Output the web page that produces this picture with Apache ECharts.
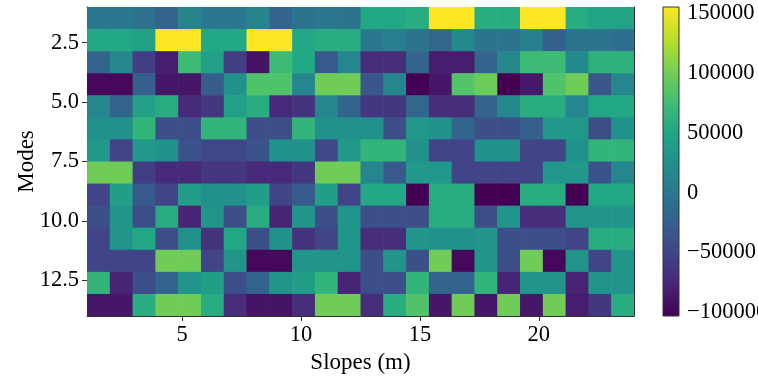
<!DOCTYPE html>
<html>
<head>
<meta charset="utf-8">
<script src="https://cdn.jsdelivr.net/npm/echarts@6/dist/echarts.min.js"></script>
<style>
  html, body { margin: 0; padding: 0; background: #fff; }
  #chart { width: 758px; height: 376px; }
</style>
</head>
<body>
<div id="chart"></div>
<script>
// axis extents (imshow extent) and tick positions
const slopeRange = [1, 24]
const modeRange = [1, 14]
const slopeTicks = [5, 10, 15, 20]
const modeTicks = [2.5, 5, 7.5, 10, 12.5]
const colorTicks = [-100000, -50000, 0, 50000, 100000, 150000]
const colorRange = [-103000, 155000]

const viridis = ['#440154', '#482475', '#414487', '#355f8d', '#2a788e', '#21918c',
  '#22a884', '#44bf70', '#7ad151', '#bddf26', '#fde725']

// one row per mode (top to bottom), 24 slope cells each
const modeRows = [
  [0, 0, -7500, -20500, 13000, 0, 0, 13000, -20500, -5000, 0, -5000, 52000, 52000, 57000, 155000, 155000, 57000, 57000, 155000, 155000, 57000, 46500, 46500],
  [52000, 52000, 44000, 155000, 155000, 52000, 52000, 155000, 155000, 52000, 57000, 57000, 0, 5000, -5000, -18000, 18000, -5000, -5000, 8000, -25500, -5000, -5000, -10000],
  [-20500, 15500, -56500, -82000, 72000, 41500, -56500, -90000, 72000, 52000, -31000, 15500, -69500, -69500, -20500, -82000, -82000, -20500, 15500, 72000, 72000, 18000, 62000, 62000],
  [-98000, -98000, -25500, -87500, -87500, -28000, 26000, 83000, 83000, 15500, 98000, 98000, -33500, 15500, -103000, -87500, 85000, 96000, -103000, -85000, 83000, 98000, -33500, 15500],
  [15500, -20500, 44000, 57000, -72000, -62000, 41500, 57000, -72000, -64000, 15500, -20500, -62000, -62000, -18000, -69500, -69500, -20500, 15500, 57000, 57000, 15500, 52000, 52000],
  [26000, 26000, 65000, -41000, -41000, 65000, 65000, -41000, -41000, 65000, 26000, 26000, 26000, -41000, 34000, 26000, -20500, -41000, -41000, -25500, 34000, 34000, -41000, 26000],
  [34000, -51500, 34000, 26000, -36000, -49000, -49000, -36000, 26000, 26000, -49000, 34000, 65000, 65000, 26000, -51500, -51500, 26000, 26000, -51500, -51500, 26000, 65000, 65000],
  [98000, 98000, -56500, -72000, -72000, -62000, -62000, -72000, -72000, -62000, 98000, 98000, 15500, -31000, 34000, 34000, -51500, -51500, -51500, -51500, 34000, 34000, -36000, 15500],
  [-51500, 39000, -31000, -51500, 39000, 26000, 26000, 39000, -51500, -31000, 39000, -51500, 52000, 52000, -103000, 57000, 57000, -103000, -103000, 57000, 57000, -103000, 52000, 52000],
  [-41000, 31000, -41000, 57000, -77000, 31000, -41000, 57000, -77000, 31000, -41000, 31000, -41000, -41000, -41000, 57000, 57000, -41000, 31000, -69500, -69500, 31000, 31000, 31000],
  [-51500, 31000, 52000, -41000, 26000, -64000, 52000, -41000, 26000, -64000, -51500, 31000, -69500, -69500, 31000, 26000, 26000, 31000, -41000, -41000, -41000, -51500, 57000, 57000],
  [-51500, -51500, -51500, 98000, 98000, -51500, 31000, -98000, -98000, 31000, 31000, 31000, -41000, 31000, -41000, 98000, -98000, 31000, -41000, 98000, -98000, 31000, -51500, 31000],
  [65000, -77000, -41000, -20500, 31000, 39000, -41000, -20500, 31000, 39000, 65000, -77000, -41000, -41000, 65000, -20500, -20500, 65000, -77000, 31000, 31000, -77000, 31000, 31000],
  [-87500, -87500, 57000, 98000, 98000, 57000, -69500, -90000, -90000, -69500, 98000, 98000, -69500, 57000, 83000, -87500, 98000, -87500, 98000, -87500, 98000, -82000, -62000, 57000],
]

const nRows = modeRows.length
const nCols = modeRows[0].length
const font = 'Liberation Serif'
const spine = '#333'

let cells = []
modeRows.forEach((row, j) => {
  row.forEach((v, i) => {
    cells.push([i, j, v])
  })
})

function renderCell(params, api) {
  const dx = (slopeRange[1] - slopeRange[0]) / nCols
  const dy = (modeRange[1] - modeRange[0]) / nRows
  const i = api.value(0)
  const j = api.value(1)
  const p0 = api.coord([slopeRange[0] + i * dx, modeRange[0] + j * dy])
  const p1 = api.coord([slopeRange[0] + (i + 1) * dx, modeRange[0] + (j + 1) * dy])
  return {
    type: 'rect',
    shape: {
      x: Math.min(p0[0], p1[0]),
      y: Math.min(p0[1], p1[1]),
      width: Math.abs(p1[0] - p0[0]) + 0.6,
      height: Math.abs(p1[1] - p0[1]) + 0.6,
    },
    style: { fill: api.visual('color') },
  }
}

function renderColorbar(params, api) {
  const top = api.coord([0, colorRange[1]])
  const bottom = api.coord([1, colorRange[0]])
  return {
    type: 'rect',
    shape: { x: top[0], y: top[1], width: bottom[0] - top[0], height: bottom[1] - top[1] },
    style: {
      fill: new echarts.graphic.LinearGradient(0, 0, 0, 1,
        viridis.slice().reverse().map((c, k) => ({ offset: k / (viridis.length - 1), color: c }))),
      stroke: spine,
      lineWidth: 1,
    },
  }
}

const tickLabel = {
  fontFamily: font,
  fontSize: 22.5,
  color: '#000',
}

const option = {
  animation: false,
  grid: [
    { left: 87, top: 7, width: 547, height: 309, outerBoundsMode: 'none' },
    { left: 663, top: 7, width: 16, height: 309, outerBoundsMode: 'none' },
  ],
  visualMap: {
    show: false,
    type: 'continuous',
    min: colorRange[0],
    max: colorRange[1],
    dimension: 2,
    seriesIndex: 0,
    inRange: { color: viridis },
  },
  xAxis: [
    {
      type: 'value',
      gridIndex: 0,
      min: slopeRange[0],
      max: slopeRange[1],
      axisLine: { show: true, onZero: false, lineStyle: { color: spine, width: 1 } },
      axisTick: { show: true, customValues: slopeTicks, length: 5, lineStyle: { color: spine } },
      axisLabel: Object.assign({ customValues: slopeTicks, margin: 8 }, tickLabel),
      splitLine: { show: false },
      name: 'Slopes (m)',
      nameLocation: 'middle',
      nameGap: 30,
      nameTextStyle: { fontFamily: font, fontSize: 23, color: '#000' },
    },
    {
      type: 'value',
      gridIndex: 0,
      position: 'top',
      min: slopeRange[0],
      max: slopeRange[1],
      axisLine: { show: true, onZero: false, lineStyle: { color: spine, width: 1 } },
      axisTick: { show: false },
      axisLabel: { show: false },
      splitLine: { show: false },
    },
    {
      type: 'value',
      gridIndex: 1,
      min: 0,
      max: 1,
      show: false,
    },
  ],
  yAxis: [
    {
      type: 'value',
      gridIndex: 0,
      inverse: true,
      min: modeRange[0],
      max: modeRange[1],
      axisLine: { show: true, onZero: false, lineStyle: { color: spine, width: 1 } },
      axisTick: { show: true, customValues: modeTicks, length: 5, lineStyle: { color: spine } },
      axisLabel: Object.assign({
        customValues: modeTicks,
        margin: 8,
        formatter: v => v.toFixed(1),
      }, tickLabel),
      splitLine: { show: false },
      name: 'Modes',
      nameLocation: 'middle',
      nameGap: 49,
      nameRotate: 90,
      nameMoveOverlap: false,
      nameTextStyle: { fontFamily: font, fontSize: 23, color: '#000' },
    },
    {
      type: 'value',
      gridIndex: 0,
      position: 'right',
      inverse: true,
      min: modeRange[0],
      max: modeRange[1],
      axisLine: { show: true, onZero: false, lineStyle: { color: spine, width: 1 } },
      axisTick: { show: false },
      axisLabel: { show: false },
      splitLine: { show: false },
    },
    {
      type: 'value',
      gridIndex: 1,
      position: 'right',
      min: colorRange[0],
      max: colorRange[1],
      axisLine: { show: false },
      axisTick: { show: true, customValues: colorTicks, length: 4, lineStyle: { color: spine } },
      axisLabel: Object.assign({
        customValues: colorTicks,
        margin: 8,
        formatter: v => (v < 0 ? '\u2212' + Math.abs(v) : String(v)),
      }, tickLabel),
      splitLine: { show: false },
    },
  ],
  series: [
    {
      type: 'custom',
      xAxisIndex: 0,
      yAxisIndex: 0,
      renderItem: renderCell,
      encode: { x: -1, y: -1 },
      data: cells,
      clip: true,
      z: 1,
    },
    {
      type: 'custom',
      xAxisIndex: 2,
      yAxisIndex: 2,
      renderItem: renderColorbar,
      data: [[0]],
      encode: { x: -1, y: -1 },
    },
  ],
}

const myChart = echarts.init(document.getElementById('chart'))
myChart.setOption(option)
</script>
</body>
</html>
